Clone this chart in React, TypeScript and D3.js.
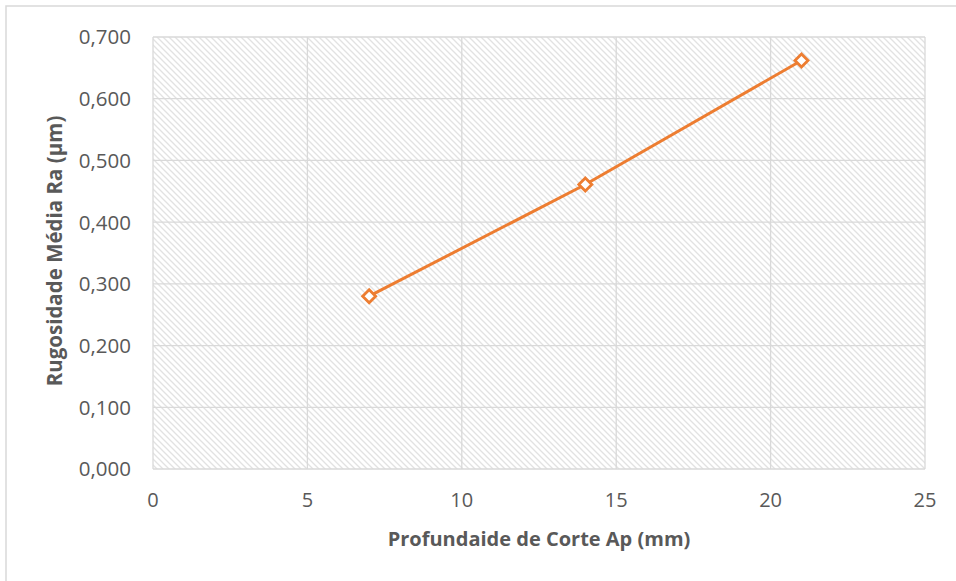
import React from "react";
import * as d3 from "d3";

const xValues = [7, 14, 21];
const yValues = [0.28, 0.461, 0.662];
const xTicks = [0, 5, 10, 15, 20, 25];
const yTicks = [0, 0.1, 0.2, 0.3, 0.4, 0.5, 0.6, 0.7];
const xTitle = "Profundaide de Corte Ap (mm)";
const yTitle = "Rugosidade Média Ra (µm)";

export default function App() {
  const W = 956, H = 581;
  const left = 153, right = 925, top = 37, bottom = 469;
  const x = d3.scaleLinear().domain([0, 25]).range([left, right]);
  const y = d3.scaleLinear().domain([0, 0.7]).range([bottom, top]);
  const fmt = (v: number) => v.toFixed(3).replace(".", ",");
  const pts = xValues.map((v, i) => [x(v), y(yValues[i])] as [number, number]);
  const line = d3.line()(pts) || "";
  const font = "'Open Sans', sans-serif";
  const grid = "#d9d9d9";
  return (
    <svg width={W} height={H} style={{ position: "absolute", left: 0, top: 0 }}>
      <defs>
        <pattern id="hatch" width="6" height="6" patternUnits="userSpaceOnUse">
          <rect width="6" height="6" fill="#fff" />
          <path d="M-1,-1 L7,7 M-4,2 L2,8 M2,-4 L8,2" stroke="#e2e2e2" strokeWidth="1.3" />
        </pattern>
      </defs>
      <rect x={0} y={0} width={W} height={H} fill="#fff" />
      <rect x={6} y={6} width={W + 10} height={H + 10} fill="#fff" stroke="#d9d9d9" strokeWidth={1.5} />
      <rect x={left} y={top} width={right - left} height={bottom - top} fill="url(#hatch)" />
      {yTicks.map((t) => (
        <line key={"gy" + t} x1={left} x2={right} y1={y(t)} y2={y(t)} stroke={grid} strokeWidth={1.3} />
      ))}
      {xTicks.map((t) => (
        <line key={"gx" + t} x1={x(t)} x2={x(t)} y1={top} y2={bottom} stroke={grid} strokeWidth={1.3} />
      ))}
      {yTicks.map((t) => (
        <text key={"ty" + t} x={left - 22} y={y(t)} dy="0.36em" textAnchor="end" fontFamily={font} fontSize={20.5} fill="#595959">
          {fmt(t)}
        </text>
      ))}
      {xTicks.map((t) => (
        <text key={"tx" + t} x={x(t)} y={bottom + 38} textAnchor="middle" fontFamily={font} fontSize={20} fill="#595959">
          {t}
        </text>
      ))}
      <path d={line} fill="none" stroke="#ED7D31" strokeWidth={3} />
      {pts.map(([px, py], i) => (
        <path key={"m" + i} d={`M${px},${py - 6.5} L${px + 6.5},${py} L${px},${py + 6.5} L${px - 6.5},${py} Z`} fill="#fff" stroke="#ED7D31" strokeWidth={2.8} strokeLinejoin="miter" />
      ))}
      <text x={539} y={546} textAnchor="middle" fontFamily={font} fontSize={20} fontWeight="bold" fill="#595959">
        {xTitle}
      </text>
      <text transform={`translate(62,${251}) rotate(-90)`} textAnchor="middle" fontFamily={font} fontSize={20.5} fontWeight="bold" fill="#595959">
        {yTitle}
      </text>
    </svg>
  );
}
